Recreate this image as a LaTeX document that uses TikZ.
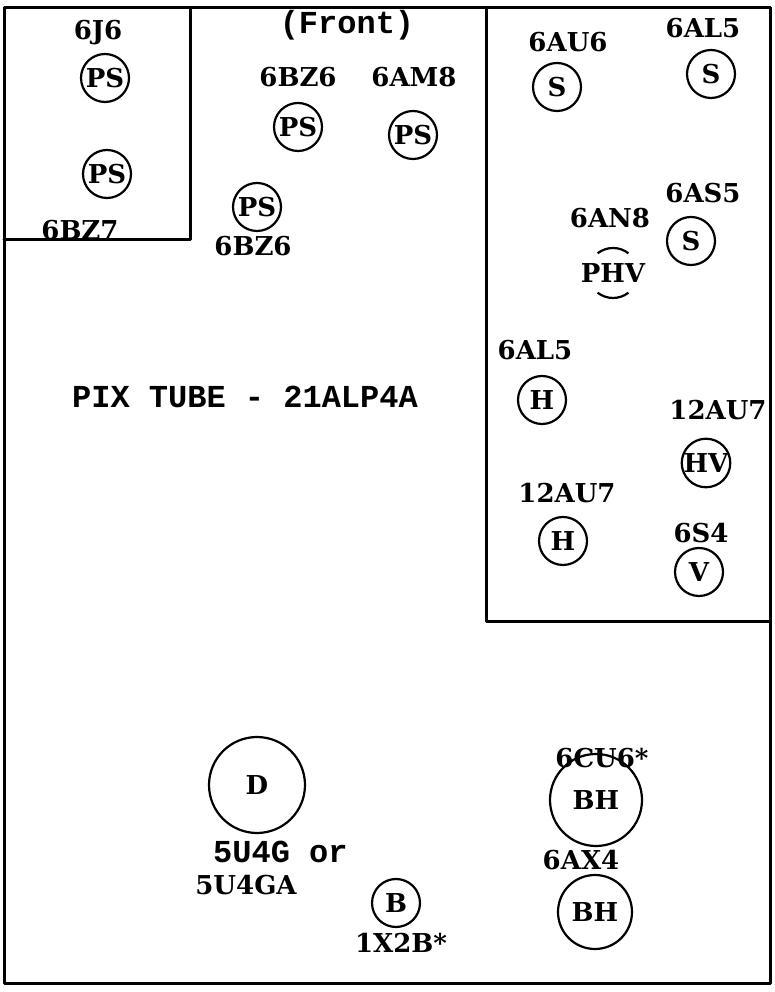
\documentclass[tikz,border=0pt]{standalone}
\usepackage{fontspec}
\setmainfont{DejaVu Serif}
\newfontfamily\typefont{Liberation Mono}
\usepackage{tikz}
\usetikzlibrary{positioning}

\begin{document}
\begin{tikzpicture}[
  x=1pt, y=1pt,
  frame/.style={line width=3pt, line cap=round, line join=round},
  tube/.style={draw, circle, line width=2.2pt, inner sep=0pt, minimum size=48pt, font=\fontsize{26}{28}\selectfont\bfseries},
  bigtube/.style={tube, minimum size=#1},
  lbl/.style={inner sep=0pt, font=\fontsize{26}{28}\selectfont\bfseries},
  typed/.style={inner sep=0pt, font=\fontsize{32}{34}\selectfont\typefont\bfseries}
]
\useasboundingbox (0,0) rectangle (775,992);
% chassis outline and shields
\draw[frame] (4,8) rectangle (770,984);
\draw[frame] (4,752) -- (190,752) -- (190,984);
\draw[frame] (486,984) -- (486,370) -- (770,370);

\node[typed] (front) at (347,967) {(Front)};
\node[typed] (pix) at (245,595) {PIX TUBE - 21ALP4A};

% tuner
\node[lbl] (l6j6) at (98,959) {6J6};
\node[tube] (ps1) at (105,914) {PS};
\node[tube] (ps2) at (107,818) {PS};
\node[lbl] (l6bz7) at (80,762) {6BZ7};

% if strip
\node[lbl] (l6bz6a) at (298,915) {6BZ6};
\node[tube] (ps3) at (298,865) {PS};
\node[lbl] (l6am8) at (414,915) {6AM8};
\node[tube] (ps4) at (413,857) {PS};
\node[tube] (ps5) at (257,785) {PS};
\node[lbl] (l6bz6b) at (253,746) {6BZ6};

% sweep section
\node[lbl] (l6au6) at (568,950) {6AU6};
\node[tube] (s1) at (557,905) {S};
\node[lbl] (l6al5a) at (703,964) {6AL5};
\node[tube] (s2) at (711,918) {S};
\node[lbl] (l6as5) at (703,799) {6AS5};
\node[tube] (s3) at (691,751) {S};
\node[lbl] (l6an8) at (610,774) {6AN8};
\node[lbl, minimum size=48pt] (phv) at (613,719) {PHV};
\draw[line width=2.2pt] (phv.center) ++(52:25) arc[start angle=52, end angle=128, radius=25];
\draw[line width=2.2pt] (phv.center) ++(232:25) arc[start angle=232, end angle=308, radius=25];
\node[lbl] (l6al5b) at (535,642) {6AL5};
\node[tube] (h1) at (542,592) {H};
\node[lbl] (l12au7a) at (718,582) {12AU7};
\node[tube] (hv) at (706,529) {HV};
\node[lbl] (l12au7b) at (567,499) {12AU7};
\node[tube] (h2) at (563,451) {H};
\node[lbl] (l6s4) at (701,459) {6S4};
\node[tube] (v) at (699,420) {V};

% power and high voltage
\node[bigtube=96pt] (d) at (257,207) {D};
\node[typed, anchor=west] (l5u4g) at (213,140) {5U4G or};
\node[lbl] (l5u4ga) at (246,107) {5U4GA};
\node[tube] (b) at (396,89) {B};
\node[lbl] (l1x2b) at (401,49) {1X2B*};
\node[bigtube=92pt] (bh1) at (596,192) {BH};
\node[lbl] (l6cu6) at (602,234) {6CU6*};
\node[lbl] (l6ax4) at (581,132) {6AX4};
\node[bigtube=74pt] (bh2) at (595,80) {BH};
\end{tikzpicture}
\end{document}
